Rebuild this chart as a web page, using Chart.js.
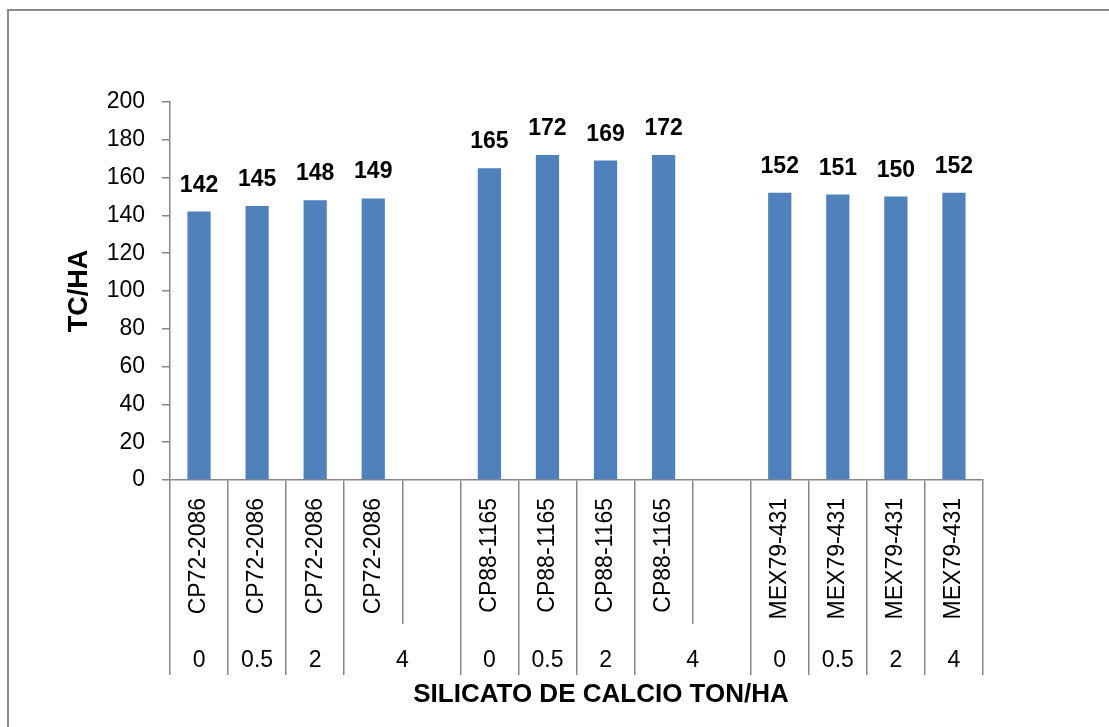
<!DOCTYPE html>
<html>
<head>
<meta charset="utf-8">
<script src="https://cdn.jsdelivr.net/npm/chart.js@4.4.1/dist/chart.umd.min.js"></script>
<style>
  html, body { margin: 0; padding: 0; background: #fff; }
  #wrap { width: 1109px; height: 727px; }
</style>
</head>
<body>
<div id="wrap"><canvas id="chart" width="1109" height="727"></canvas></div>
<script>
// varieties / doses per slot; '' slots are the gaps between the groups
const varieties = [
  'CP72-2086', 'CP72-2086', 'CP72-2086', 'CP72-2086', '',
  'CP88-1165', 'CP88-1165', 'CP88-1165', 'CP88-1165', '',
  'MEX79-431', 'MEX79-431', 'MEX79-431', 'MEX79-431'
];
const doses = ['0', '0.5', '2', '4', '', '0', '0.5', '2', '4', '', '0', '0.5', '2', '4'];
const tcha = [142, 145, 148, 149, null, 165, 172, 169, 172, null, 152, 151, 150, 152];
const xTitle = 'SILICATO DE CALCIO TON/HA';
const yTitle = 'TC/HA';

const FONT = "'Liberation Sans', Arial, sans-serif";
const AXIS = '#868686';
const BAR = '#4F81BD';

Chart.defaults.font.family = FONT;
Chart.defaults.color = '#000';

// outer frame of the chart object
const framePlugin = {
  id: 'frame',
  beforeDraw(chart) {
    const ctx = chart.ctx;
    ctx.save();
    ctx.fillStyle = '#fff';
    ctx.fillRect(0, 0, chart.width, chart.height);
    ctx.strokeStyle = '#8a8a8a';
    ctx.lineWidth = 2;
    ctx.strokeRect(8, 10, chart.width + 20, chart.height + 20);
    ctx.restore();
  }
};

// value labels above the bars
const barLabels = {
  id: 'barLabels',
  afterDatasetsDraw(chart) {
    const ctx = chart.ctx;
    const meta = chart.getDatasetMeta(0);
    ctx.save();
    ctx.font = 'bold 23px ' + FONT;
    ctx.fillStyle = '#000';
    ctx.textAlign = 'center';
    ctx.textBaseline = 'alphabetic';
    meta.data.forEach((bar, i) => {
      if (tcha[i] == null) return;
      ctx.fillText(String(tcha[i]), bar.x, bar.y - 20);
    });
    ctx.restore();
  }
};

// second category row (dose) and the x axis title
const doseRow = {
  id: 'doseRow',
  afterDraw(chart) {
    const ctx = chart.ctx;
    const x = chart.scales.x;
    const x2 = chart.scales.x2;
    ctx.save();
    ctx.font = '23px ' + FONT;
    ctx.fillStyle = '#000';
    ctx.textAlign = 'center';
    ctx.textBaseline = 'alphabetic';
    for (let i = 0; i < doses.length; i++) {
      if (doses[i] === '') continue;
      let end = i;
      if (i + 1 < doses.length && doses[i + 1] === '' && varieties[i + 1] === '') end = i + 1;
      const cx = (x.getPixelForValue(i) + x.getPixelForValue(end)) / 2;
      ctx.fillText(doses[i], cx, x2.top + 43);
    }
    ctx.font = 'bold 26px ' + FONT;
    ctx.fillText(xTitle, 601, 702);
    ctx.restore();
  }
};

new Chart(document.getElementById('chart'), {
  type: 'bar',
  data: {
    labels: varieties,
    datasets: [{
      label: yTitle,
      data: tcha,
      backgroundColor: BAR,
      borderWidth: 0,
      barPercentage: 0.4,
      categoryPercentage: 1.0
    }]
  },
  options: {
    responsive: false,
    animation: false,
    devicePixelRatio: 1,
    layout: { padding: { left: 63, top: 102, right: 126, bottom: 0 } },
    plugins: {
      legend: { display: false },
      tooltip: { enabled: false }
    },
    scales: {
      y: {
        min: 0,
        max: 200,
        ticks: { stepSize: 20, padding: 17, color: '#000', font: { size: 23 } },
        grid: { drawOnChartArea: false, drawTicks: true, tickLength: 8, color: AXIS, lineWidth: 1.5 },
        border: { display: true, color: AXIS, width: 1.5 },
        title: {
          display: true,
          text: yTitle,
          color: '#000',
          font: { size: 27, weight: 'bold' },
          padding: { top: 0, bottom: 0 }
        },
        afterFit(scale) { scale.width = 107; }
      },
      x: {
        offset: true,
        ticks: {
          autoSkip: false,
          minRotation: 90,
          maxRotation: 90,
          padding: -126,
          color: '#000',
          font: { size: 23 }
        },
        grid: { offset: true, drawOnChartArea: false, drawTicks: true, tickLength: 144, color: AXIS, lineWidth: 1.5 },
        border: { display: true, color: AXIS, width: 1.5 },
        afterFit(scale) { scale.height = 144; }
      },
      x2: {
        type: 'category',
        position: 'bottom',
        offset: true,
        ticks: { display: false },
        grid: {
          offset: true,
          drawOnChartArea: false,
          drawTicks: true,
          tickLength: 51,
          lineWidth: 1.5,
          // no separator inside the merged "4" cells
          color: (c) => (c.index === 4 || c.index === 9) ? 'rgba(0,0,0,0)' : AXIS
        },
        border: { display: false },
        afterFit(scale) { scale.height = 103; }
      }
    }
  },
  plugins: [framePlugin, barLabels, doseRow]
});
</script>
</body>
</html>
